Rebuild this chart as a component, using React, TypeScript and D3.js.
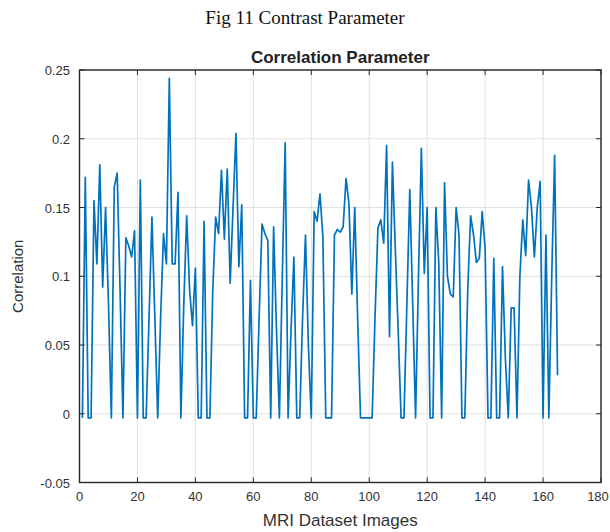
import React from "react";
import * as d3 from "d3";

const Z = -0.003;
const correlation: number[] = [
  Z, 0.172, Z, Z, 0.155, 0.109, 0.181, 0.092, 0.15, 0.08,
  Z, 0.165, 0.175, 0.09, Z, 0.128, 0.122, 0.114, 0.133, Z,
  0.17, Z, Z, 0.07, 0.143, 0.07, Z, 0.07, 0.131, 0.109,
  0.244, 0.109, 0.109, 0.161, Z, 0.08, 0.144, 0.09, 0.064, 0.106,
  Z, Z, 0.14, Z, Z, 0.09, 0.143, 0.131, 0.177, 0.127,
  0.178, 0.095, 0.15, 0.204, 0.107, 0.152, Z, Z, 0.097, Z,
  Z, 0.07, 0.138, 0.131, 0.126, Z, 0.136, 0.06, Z, 0.1,
  0.197, Z, 0.06, 0.114, Z, Z, 0.07, 0.13, 0.05, Z,
  0.147, 0.14, 0.16, 0.129, Z, Z, Z, 0.13, 0.134, 0.132,
  0.136, 0.171, 0.153, 0.087, 0.15, 0.07, Z, Z, Z, Z,
  Z, 0.07, 0.135, 0.141, 0.124, 0.195, 0.056, 0.183, 0.12, 0.06,
  Z, Z, 0.08, 0.163, 0.08, Z, 0.1, 0.193, 0.102, 0.15,
  Z, Z, 0.15, 0.11, Z, 0.168, 0.1, 0.087, 0.085, 0.15,
  0.13, Z, Z, 0.09, 0.144, 0.13, 0.11, 0.113, 0.147, 0.12,
  Z, Z, 0.113, Z, Z, 0.107, 0.04, Z, 0.077, 0.077,
  Z, 0.1, 0.141, 0.115, 0.17, 0.15, 0.114, 0.15, 0.169, Z,
  0.13, Z, 0.1, 0.188, 0.028,
];
const xTicks: number[] = [0, 20, 40, 60, 80, 100, 120, 140, 160, 180];
const yTicks: number[] = [-0.05, 0, 0.05, 0.1, 0.15, 0.2, 0.25];
const yTickLabels: string[] = ["-0.05", "0", "0.05", "0.1", "0.15", "0.2", "0.25"];
const figTitle = "Fig 11 Contrast Parameter";
const plotTitle = "Correlation Parameter";
const xLabel = "MRI Dataset Images";
const yLabel = "Correlation";

export default function App() {
  const W = 610, H = 532;
  const L = 79.5, R = 601, T = 70, B = 482.5;
  const x = d3.scaleLinear().domain([0, 180]).range([L, R]);
  const y = d3.scaleLinear().domain([-0.05, 0.25]).range([B, T]);
  const line = d3
    .line<number>()
    .x((_, i) => x(i + 1))
    .y((d) => y(d))
    .curve(d3.curveLinear);
  const axisCol = "#262626";
  const font = "'Liberation Sans', Arial, sans-serif";
  return (
    <svg width={W} height={H} style={{ position: "absolute", left: 0, top: 0, background: "#fff" }}>
      <rect x={0} y={0} width={W} height={H} fill="#fff" />
      <text x={305} y={24} textAnchor="middle" fontFamily="'Liberation Serif', 'Times New Roman', serif" fontSize={19} fill="#111">
        {figTitle}
      </text>
      <text x={(L + R) / 2} y={63} textAnchor="middle" fontFamily={font} fontWeight="bold" fontSize={17} fill="#222">
        {plotTitle}
      </text>
      {xTicks.map((t) => (
        <line key={"gx" + t} x1={x(t)} x2={x(t)} y1={T} y2={B} stroke="#e0e0e0" strokeWidth={1} />
      ))}
      {yTicks.map((t) => (
        <line key={"gy" + t} x1={L} x2={R} y1={y(t)} y2={y(t)} stroke="#e0e0e0" strokeWidth={1} />
      ))}
      <path d={line(correlation) || ""} fill="none" stroke="#0072BD" strokeWidth={1.7} strokeLinejoin="round" />
      <rect x={L} y={T} width={R - L} height={B - T} fill="none" stroke={axisCol} strokeWidth={1.4} />
      {xTicks.map((t) => (
        <g key={"tx" + t}>
          <line x1={x(t)} x2={x(t)} y1={B} y2={B - 5} stroke={axisCol} strokeWidth={1} />
          <line x1={x(t)} x2={x(t)} y1={T} y2={T + 5} stroke={axisCol} strokeWidth={1} />
          <text x={t === 180 ? x(t) - 3 : x(t)} y={501} textAnchor="middle" fontFamily={font} fontSize={13} fill="#333">
            {t}
          </text>
        </g>
      ))}
      {yTicks.map((t, i) => (
        <g key={"ty" + t}>
          <line x1={L} x2={L + 5} y1={y(t)} y2={y(t)} stroke={axisCol} strokeWidth={1} />
          <line x1={R} x2={R - 5} y1={y(t)} y2={y(t)} stroke={axisCol} strokeWidth={1} />
          <text x={70} y={y(t) + 5} textAnchor="end" fontFamily={font} fontSize={13} fill="#333">
            {yTickLabels[i]}
          </text>
        </g>
      ))}
      <text x={(L + R) / 2} y={526} textAnchor="middle" fontFamily={font} fontSize={17} fill="#333">
        {xLabel}
      </text>
      <text transform={`translate(23, ${(T + B) / 2}) rotate(-90)`} textAnchor="middle" fontFamily={font} fontSize={15} fill="#333">
        {yLabel}
      </text>
    </svg>
  );
}
